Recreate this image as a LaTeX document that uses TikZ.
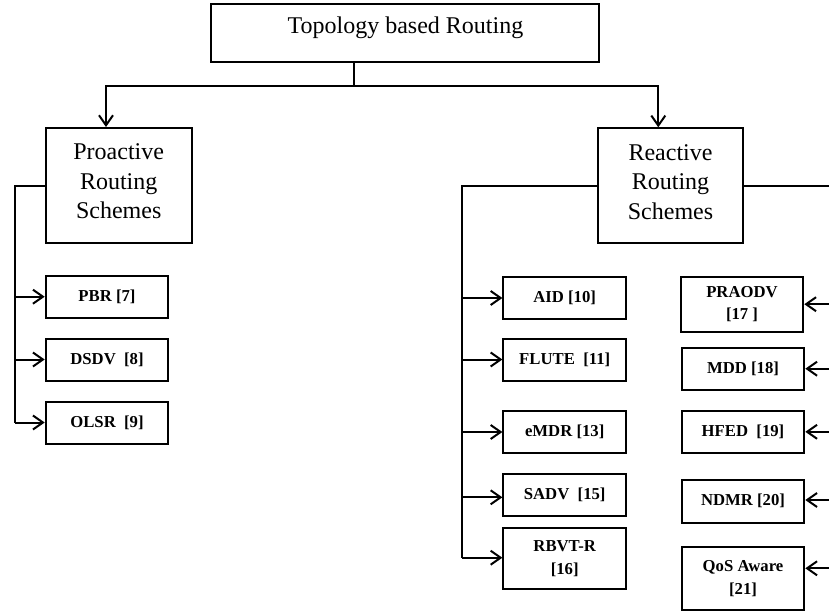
\documentclass[tikz,border=0pt]{standalone}
\usepackage{fontspec}
\setmainfont{Liberation Serif}
\usetikzlibrary{arrows.meta}
\begin{document}
\begin{tikzpicture}[x=1pt,y=-1pt,
  line width=2pt,
  bigbox/.style={draw, line width=2pt, inner sep=0pt},
  bigtext/.style={inner sep=0pt, align=center, font=\fontsize{24}{29.5}\selectfont},
  smallbox/.style={draw, line width=2pt, inner sep=0pt, align=center,
    minimum width=122.6pt, minimum height=42pt,
    font=\bfseries\fontsize{16.7}{22.5}\selectfont},
  conn/.style={line width=2pt},
  arr/.style={line width=2pt, -{Straight Barb[length=10pt,width=14pt]}}]
\useasboundingbox (0,0) rectangle (829,611);

% top
\node[bigbox, minimum width=388pt, minimum height=58pt] (top) at (405,33) {};
\node[bigtext] (toptext) at (405.5,28) {Topology based Routing};

% level 2
\node[bigbox, minimum width=146pt, minimum height=115pt] (pro) at (118.7,185.5) {};
\node[bigtext] (protext) at ([yshift=4pt]pro.center) {Proactive\\Routing\\Schemes};
\node[bigbox, minimum width=145.6pt, minimum height=115pt] (rea) at (670.5,185.8) {};
\node[bigtext] (reatext) at ([yshift=4pt]rea.center) {Reactive\\Routing\\Schemes};

\coordinate (j) at (354,86);
\draw[conn] (top.south -| j) -- (j);
\draw[arr] (j) -| ([xshift=-12.7pt]pro.north);
\draw[arr] (j) -| ([xshift=-12.2pt]rea.north);

% proactive children
\node[smallbox] (pbr)  at (107,296.7) {PBR [7]};
\node[smallbox] (dsdv) at (107,359.5) {DSDV~ [8]};
\node[smallbox] (olsr) at (107,422.5) {OLSR~ [9]};
\coordinate (lb) at (15,422.5);
\draw[conn] (pro.west) -| (lb);
\draw[arr] (lb |- pbr) -- (pbr.west);
\draw[arr] (lb |- dsdv) -- (dsdv.west);
\draw[arr] (lb) -- (olsr.west);

% reactive left children
\node[smallbox] (aid)   at (564.7,298)   {AID [10]};
\node[smallbox] (flute) at (564.7,359.5) {FLUTE~ [11]};
\node[smallbox] (emdr)  at (564.7,432)   {eMDR [13]};
\node[smallbox] (sadv)  at (564.7,495)   {SADV~ [15]};
\node[smallbox, minimum height=61.6pt] (rbvt) at (564.7,558.5) {RBVT-R\\{[16]}};
\coordinate (rl) at (462.3,557.7);
\draw[conn] (rea.west) -| (rl);
\draw[arr] (rl |- aid) -- (aid.west);
\draw[arr] (rl |- flute) -- (flute.west);
\draw[arr] (rl |- emdr) -- (emdr.west);
\draw[arr] ([yshift=-2.3pt]rl |- sadv) -- ([yshift=-2.3pt]sadv.west);
\draw[arr] (rl) -- (rl -| rbvt.west);

% reactive right children
\node[smallbox, minimum height=55pt] (praodv) at (742,304.2) {PRAODV\\{[17 ]}};
\node[smallbox] (mdd)  at (743,368.7) {MDD [18]};
\node[smallbox] (hfed) at (743,431.8) {HFED~ [19]};
\node[smallbox, minimum height=42.7pt] (ndmr) at (743,501.3) {NDMR [20]};
\node[smallbox, minimum height=62.7pt] (qos)  at (743,578.7) {QoS Aware\\{[21]}};
\coordinate (rb) at (829,185.8);
\draw[conn] (rea.east) -- (rb);
\draw[arr] (rb |- praodv) -- (praodv.east);
\draw[arr] (rb |- mdd) -- (mdd.east);
\draw[arr] (rb |- hfed) -- (hfed.east);
\draw[arr] ([yshift=1.3pt]rb |- ndmr) -- ([yshift=1.3pt]ndmr.east);
\draw[arr] ([yshift=10.4pt]rb |- qos) -- ([yshift=10.4pt]qos.east);
\end{tikzpicture}
\end{document}
